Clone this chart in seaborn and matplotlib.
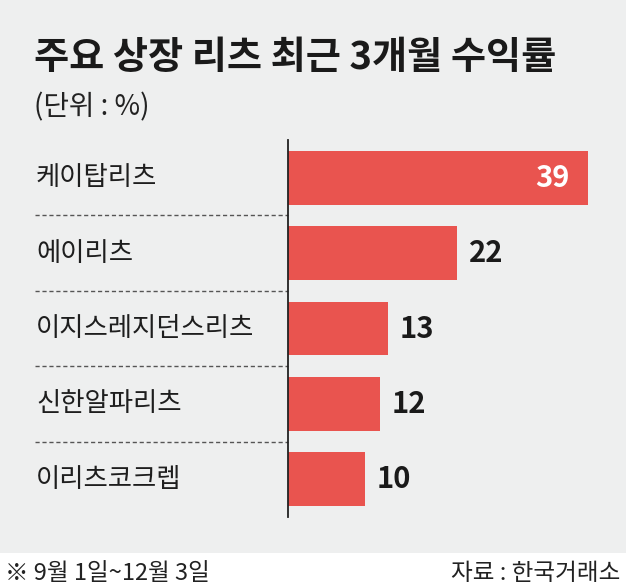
import matplotlib
matplotlib.use("Agg")
import matplotlib.pyplot as plt
import matplotlib.transforms as mtransforms
from matplotlib.patches import Rectangle
import seaborn as sns
import pandas as pd

# 데이터
names = ["케이탑리츠", "에이리츠", "이지스레지던스리츠", "신한알파리츠", "이리츠코크렙"]
returns = [39, 22, 13, 12, 10]

title = "주요 상장 리츠 최근 3개월 수익률"
unit_text = "(단위 : %)"
note_text = "※ 9월 1일~12월 3일"
source_text = "자료 : 한국거래소"

bg = "#eeefef"
bar_color = "#e9544f"

sns.set_theme(style="white")
plt.rcParams['font.family'] = ['Noto Sans CJK KR', 'DejaVu Sans']

df = pd.DataFrame({"name": names, "ret": returns})

W, H = 626, 588
fig = plt.figure(figsize=(W / 100, H / 100), dpi=100, facecolor="white")

# 회색 배경
fig.patches.append(Rectangle((0, 35 / H), 1, 1 - 35 / H, transform=fig.transFigure,
                             facecolor=bg, edgecolor="none", zorder=-10))

ax = fig.add_axes([288 / W, 71 / H, 338 / W, 377 / H])
ax.patch.set_alpha(0)
ax.set_zorder(5)

sns.barplot(data=df, x="ret", y="name", orient="h", color=bar_color,
            saturation=1, width=0.715, linewidth=0, ax=ax)
ax.set_xlim(0, 43.94)
ax.set_ylim(4.5, -0.5)
ax.set_xlabel("")
ax.set_ylabel("")
ax.set_xticks([])
ax.set_yticks([])
for s in ["top", "right", "bottom"]:
    ax.spines[s].set_visible(False)
ax.spines["left"].set_color("#222222")
ax.spines["left"].set_linewidth(1.3)

trans = mtransforms.blended_transform_factory(ax.transAxes, ax.transData)
x_label = (36 - 288) / 338
for i, (n, v) in enumerate(zip(names, returns)):
    ax.text(x_label, i, n, transform=trans, ha="left", va="center",
            fontsize=19, color="#1e1e1e")
    if i == 0:
        ax.text(v - 2.4, i, str(v), ha="right", va="center", fontsize=21,
                fontweight="bold", color="white")
    else:
        ax.text(v + 1.5, i, str(v), ha="left", va="center", fontsize=21,
                fontweight="bold", color="#1a1a1a")

# 점선 구분선
for i in range(len(names) - 1):
    ax.plot([(35 - 288) / 338, 0], [i + 0.5, i + 0.5], transform=trans,
            linestyle=(0, (3, 2)), color="#555555", linewidth=1, clip_on=False)

fig.text(34 / W, 1 - 57 / H, title, ha="left", va="center", fontsize=27.5,
         fontweight="bold", color="#1a1a1a")
fig.text(34 / W, 1 - 107 / H, unit_text, ha="left", va="center", fontsize=20,
         color="#222222")
fig.text(5 / W, 1 - 573 / H, note_text, ha="left", va="center", fontsize=17,
         color="#222222")
fig.text(620 / W, 1 - 573 / H, source_text, ha="right", va="center", fontsize=17,
         color="#222222")

fig.savefig("out.png", dpi=100, facecolor="white")
